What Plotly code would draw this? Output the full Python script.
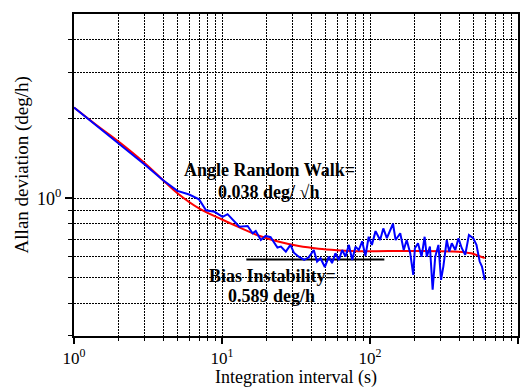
import plotly.graph_objects as go

# ---------------- data ----------------
blue_tau = [1, 2, 3, 4, 5, 6, 7, 7.8, 8.9, 10.1, 10.9, 13.1, 14.9, 16.1, 16.9, 18.3, 19.7, 21.3,
            22.5, 23.7, 25, 27, 29, 30.6, 33, 35.9, 38.6, 41.7, 43.9, 46.3, 49.5, 52.7, 55.4,
            58.4, 61.6, 64.9, 68.3, 72, 75.8, 79.8, 84, 88.5, 93.2, 98, 103, 109, 117, 123,
            130, 136, 143, 149, 160, 169, 177, 187, 196, 201, 211, 223, 234, 242, 254, 265,
            276, 290, 302, 313, 330, 343, 357, 377, 396, 417, 440, 466, 498, 524, 551, 571, 596]
blue_sigma = [2.21, 1.617, 1.343, 1.169, 1.066, 1.033, 0.99, 0.90, 0.888, 0.85, 0.87, 0.78,
              0.784, 0.736, 0.751, 0.694, 0.719, 0.711, 0.675, 0.65, 0.655, 0.627, 0.665,
              0.621, 0.60, 0.583, 0.597, 0.636, 0.575, 0.592, 0.548, 0.60, 0.567, 0.618,
              0.583, 0.636, 0.60, 0.665, 0.583, 0.655, 0.636, 0.686, 0.604, 0.714, 0.665,
              0.75, 0.694, 0.768, 0.705, 0.75, 0.80, 0.694, 0.736, 0.636, 0.694, 0.618,
              0.512, 0.646, 0.675, 0.60, 0.714, 0.60, 0.655, 0.45, 0.60, 0.665, 0.49, 0.55,
              0.694, 0.627, 0.675, 0.636, 0.705, 0.646, 0.61, 0.725, 0.705, 0.665, 0.575,
              0.55, 0.49]

fit_tau = [1, 1.5, 2, 3, 4, 5, 7, 10, 13.1, 17.8, 24.3, 33, 45, 60, 84, 200, 394, 482, 596]
fit_sigma = [2.21, 1.85, 1.64, 1.36, 1.17, 1.045, 0.915, 0.83, 0.775, 0.72, 0.683, 0.658,
             0.643, 0.635, 0.629, 0.631, 0.627, 0.618, 0.592]

bias_tau = [14.6, 125]
bias_sigma = [0.585, 0.585]

x_major = [1, 10, 100, 1000]
x_major_text = ["10<sup>0</sup>", "10<sup>1</sup>", "10<sup>2</sup>", "10<sup>3</sup>"]
x_minor = [m * d for d in (1, 10, 100) for m in range(2, 10)]
y_major = [1]
y_major_text = ["10<sup>0</sup>"]
y_minor = [0.3, 0.4, 0.5, 0.6, 0.7, 0.8, 0.9, 2, 3, 4]

FONT = "Liberation Serif, Times New Roman, serif"

fig = go.Figure()
fig.add_trace(go.Scatter(x=fit_tau, y=fit_sigma, mode="lines",
                         line=dict(color="#ff0000", width=2), line_shape="spline"))
fig.add_trace(go.Scatter(x=bias_tau, y=bias_sigma, mode="lines",
                         line=dict(color="black", width=2)))
fig.add_trace(go.Scatter(x=blue_tau, y=blue_sigma, mode="lines",
                         line=dict(color="#0000ff", width=2)))

grid = dict(showgrid=True, gridcolor="black", gridwidth=1, griddash="2px,1px")

fig.update_xaxes(type="log", range=[0, 3], tickmode="array", tickvals=x_major,
                 ticktext=x_major_text, ticks="outside", ticklen=6, tickwidth=2,
                 tickcolor="black", showline=True, linecolor="black", linewidth=2,
                 mirror=True, zeroline=False, ticklabelstandoff=0,
                 tickfont=dict(size=17, family=FONT, color="black"),
                 minor=dict(tickmode="array", tickvals=x_minor, ticks="outside", ticklen=3,
                            tickwidth=1, tickcolor="black", **grid),
                 **grid)
fig.update_yaxes(type="log", range=[-0.5229, 0.699], tickmode="array", tickvals=y_major,
                 ticktext=y_major_text, ticks="outside", ticklen=7, tickwidth=2,
                 tickcolor="black", showline=True, linecolor="black", linewidth=2,
                 mirror=True, zeroline=False, tickfont=dict(size=18, family=FONT, color="black"),
                 minor=dict(tickmode="array", tickvals=y_minor, ticks="outside", ticklen=4,
                            tickwidth=1, tickcolor="black", **grid),
                 **grid)

bold = dict(size=18, family=FONT, color="black")
ann = [
    dict(x=1.318, y=0.1057, text="<b>Angle Random Walk=</b>"),
    dict(x=1.311, y=0.0238, text="<b>0.038 deg/ \u221ah</b>"),
    dict(x=1.338, y=-0.294, text="<b>Bias Instability=</b>"),
    dict(x=1.332, y=-0.370, text="<b>0.589 deg/h</b>"),
]
annotations = [dict(a, xref="x", yref="y", showarrow=False, font=bold,
                    xanchor="center", yanchor="middle") for a in ann]
annotations.append(dict(text="Allan deviation (deg/h)", textangle=-90, xref="paper", yref="paper",
                        x=-0.117, y=0.53, showarrow=False, xanchor="center", yanchor="middle",
                        font=dict(size=19, family=FONT, color="black")))
annotations.append(dict(text="Integration interval (s)", xref="paper", yref="paper",
                        x=0.5, y=-0.164, showarrow=False, xanchor="center", yanchor="bottom",
                        borderpad=0, font=dict(size=18, family=FONT, color="black")))

fig.update_layout(width=529, height=390, margin=dict(l=74, r=9, t=14, b=54),
                  paper_bgcolor="white", plot_bgcolor="white", showlegend=False,
                  annotations=annotations, font=dict(family=FONT, color="black"))

fig.write_html("out.html")
